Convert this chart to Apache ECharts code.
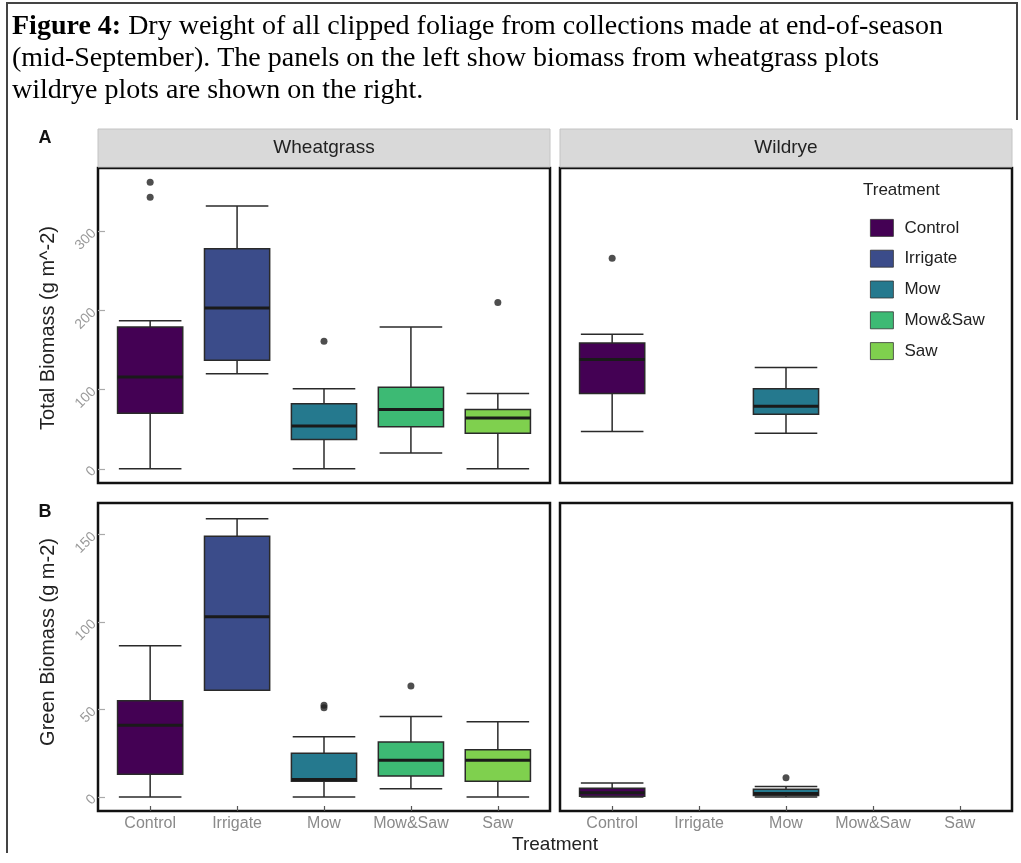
<!DOCTYPE html>
<html>
<head>
<meta charset="utf-8">
<script src="https://cdn.jsdelivr.net/npm/echarts@6/dist/echarts.min.js"></script>
<style>
html,body{margin:0;padding:0;background:#fff;}
#chart{width:1021px;height:863px;}
</style>
</head>
<body>
<div id="chart"></div>
<script>
// ---- data ----
const treatments = ['Control', 'Irrigate', 'Mow', 'Mow&Saw', 'Saw'];
// [lower whisker, Q1, median, Q3, upper whisker]
const totalWheatgrass = [
  [0, 70, 116, 179, 187],
  [120, 137, 203, 278, 332],
  [0, 37, 54, 82, 101],
  [20, 53, 75, 103, 179],
  [0, 45, 64, 75, 95]
];
const totalWheatgrassOutliers = [[0, 362], [0, 343], [2, 161], [4, 210]];
const totalWildrye = [
  [47, 95, 138, 159, 170],
  null,
  [45, 69, 79, 101, 128],
  null,
  null
];
const totalWildryeOutliers = [[0, 266]];
const greenWheatgrass = [
  [0, 13, 41, 55, 86.5],
  [61, 61, 103, 149, 159],
  [0, 9, 10, 25, 34.5],
  [4.7, 12, 21, 31.5, 46],
  [0, 9, 21, 27, 43]
];
const greenWheatgrassOutliers = [[2, 52.5], [2, 51], [3, 63.4]];
const greenWildrye = [
  [0, 0.5, 2.5, 5, 8],
  null,
  [0, 0.8, 2, 4.5, 6],
  null,
  null
];
const greenWildryeOutliers = [[2, 11]];
const totalTicks = [0, 100, 200, 300];
const greenTicks = [0, 50, 100, 150];

// ---- style ----
const colors = ['#440154', '#3B4C8A', '#25798E', '#3DBA74', '#7FD04E'];
const FONT = '"Liberation Sans", Arial, sans-serif';
const SERIF = '"Liberation Serif", "Times New Roman", serif';

const panels = [
  { stats: totalWheatgrass, out: totalWheatgrassOutliers },
  { stats: totalWildrye, out: totalWildryeOutliers },
  { stats: greenWheatgrass, out: greenWheatgrassOutliers },
  { stats: greenWildrye, out: greenWildryeOutliers }
];

const grids = [
  { left: 98, top: 168, width: 452, height: 315 },
  { left: 560, top: 168, width: 452, height: 315 },
  { left: 98, top: 503, width: 452, height: 308 },
  { left: 560, top: 503, width: 452, height: 308 }
].map(g => Object.assign(g, { show: true, borderColor: '#111', borderWidth: 2.5, backgroundColor: '#fff', containLabel: false }));

function renderBox(params, api) {
  const x = api.value(0);
  const lo = api.coord([x, api.value(1)]);
  const q1 = api.coord([x, api.value(2)]);
  const md = api.coord([x, api.value(3)]);
  const q3 = api.coord([x, api.value(4)]);
  const hi = api.coord([x, api.value(5)]);
  const w = api.size([0.75, 0])[0];
  const cw = api.size([0.72, 0])[0];
  const color = api.visual('color');
  const ln = { stroke: '#2a2a2a', lineWidth: 1.5 };
  const cx = lo[0];
  return {
    type: 'group',
    children: [
      { type: 'line', shape: { x1: cx, y1: lo[1], x2: cx, y2: hi[1] }, style: ln },
      { type: 'line', shape: { x1: cx - cw / 2, y1: lo[1], x2: cx + cw / 2, y2: lo[1] }, style: ln },
      { type: 'line', shape: { x1: cx - cw / 2, y1: hi[1], x2: cx + cw / 2, y2: hi[1] }, style: ln },
      { type: 'rect', shape: { x: cx - w / 2, y: q3[1], width: w, height: q1[1] - q3[1] },
        style: { fill: color, stroke: '#2a2a2a', lineWidth: 1.5 } },
      { type: 'line', shape: { x1: cx - w / 2, y1: md[1], x2: cx + w / 2, y2: md[1] },
        style: { stroke: '#1a1a1a', lineWidth: 3 } }
    ]
  };
}

const xAxes = [], yAxes = [], series = [];
panels.forEach((p, g) => {
  const bottom = g >= 2;
  const leftSide = g % 2 === 0;
  xAxes.push({
    gridIndex: g, type: 'value', min: -0.6, max: 4.6, position: 'bottom',
    splitLine: { show: false }, axisLine: { show: false, onZero: false },
    axisTick: { show: bottom, customValues: [0, 1, 2, 3, 4], inside: true, length: 5, lineStyle: { color: '#555', width: 1.2 } },
    axisLabel: { show: bottom, customValues: [0, 1, 2, 3, 4], formatter: v => treatments[Math.round(v)],
      color: '#8a8a8a', fontSize: 16, fontFamily: FONT, margin: 5 }
  });
  const ticks = g < 2 ? totalTicks : greenTicks;
  yAxes.push({
    gridIndex: g, type: 'value', position: 'left',
    min: g < 2 ? -18 : -8, max: g < 2 ? 380 : 168,
    splitLine: { show: false }, axisLine: { show: false, onZero: false },
    axisTick: { show: leftSide, customValues: ticks, inside: true, length: 7, lineStyle: { color: '#aaa', width: 1.2 } },
    axisLabel: { show: leftSide, customValues: ticks, rotate: 45, color: '#9a9a9a', fontSize: 14, fontFamily: FONT, margin: 4 }
  });
  p.stats.forEach((s, i) => {
    if (!s) return;
    series.push({
      type: 'custom', name: treatments[i], xAxisIndex: g, yAxisIndex: g,
      itemStyle: { color: colors[i] },
      renderItem: renderBox,
      encode: { x: 0, y: [1, 2, 3, 4, 5] },
      data: [[i].concat(s)],
      silent: true
    });
  });
  series.push({
    type: 'scatter', name: 'outliers', xAxisIndex: g, yAxisIndex: g,
    data: p.out, symbolSize: 7, itemStyle: { color: '#222' }, silent: true, z: 5
  });
});

const graphics = [
  // outer frame
  { type: 'polyline', shape: { points: [[7, 853], [7, 3], [1017, 3], [1017, 120]] }, style: { stroke: '#444', lineWidth: 2, fill: null } },
  // caption
  { type: 'text', left: 12, top: 13, style: { text: '{b|Figure 4:} Dry weight of all clipped foliage from collections made at end-of-season',
      rich: { b: { fontWeight: 'bold', fontFamily: SERIF, fontSize: 28, fill: '#000' } }, fontFamily: SERIF, fontSize: 28, fill: '#000' } },
  { type: 'text', left: 12, top: 45, style: { text: '(mid-September). The panels on the left show biomass from wheatgrass plots', fontFamily: SERIF, fontSize: 28, fill: '#000' } },
  { type: 'text', left: 12, top: 77, style: { text: 'wildrye plots are shown on the right.', fontFamily: SERIF, fontSize: 28, fill: '#000' } },
  // strips
  { type: 'rect', shape: { x: 98, y: 129, width: 452, height: 38 }, style: { fill: '#D9D9D9', stroke: '#c4c4c4', lineWidth: 1 } },
  { type: 'rect', shape: { x: 560, y: 129, width: 452, height: 38 }, style: { fill: '#D9D9D9', stroke: '#c4c4c4', lineWidth: 1 } },
  { type: 'text', x: 324, y: 148, style: { text: 'Wheatgrass', fontFamily: FONT, fontSize: 19, fill: '#222', align: 'center', verticalAlign: 'middle' } },
  { type: 'text', x: 786, y: 148, style: { text: 'Wildrye', fontFamily: FONT, fontSize: 19, fill: '#222', align: 'center', verticalAlign: 'middle' } },
  // panel tags
  { type: 'text', x: 45, y: 138, style: { text: 'A', fontFamily: FONT, fontSize: 18, fontWeight: 'bold', fill: '#111', align: 'center', verticalAlign: 'middle' } },
  { type: 'text', x: 45, y: 512, style: { text: 'B', fontFamily: FONT, fontSize: 18, fontWeight: 'bold', fill: '#111', align: 'center', verticalAlign: 'middle' } },
  // axis titles
  { type: 'text', x: 48, y: 328, rotation: Math.PI / 2, style: { text: 'Total Biomass (g m^-2)', fontFamily: FONT, fontSize: 20, fill: '#222', align: 'center', verticalAlign: 'middle' } },
  { type: 'text', x: 48, y: 642, rotation: Math.PI / 2, style: { text: 'Green Biomass (g m-2)', fontFamily: FONT, fontSize: 20, fill: '#222', align: 'center', verticalAlign: 'middle' } },
  { type: 'text', x: 555, y: 845, style: { text: 'Treatment', fontFamily: FONT, fontSize: 19, fill: '#222', align: 'center', verticalAlign: 'middle' } },
  // legend title
  { type: 'text', x: 863, y: 190, style: { text: 'Treatment', fontFamily: FONT, fontSize: 17, fill: '#222', align: 'left', verticalAlign: 'middle' } }
];

const chart = echarts.init(document.getElementById('chart'), null, { renderer: 'canvas' });
chart.setOption({
  animation: false,
  backgroundColor: '#fff',
  grid: grids,
  xAxis: xAxes,
  yAxis: yAxes,
  series: series,
  legend: {
    orient: 'vertical', left: 865, top: 214,
    data: treatments, icon: 'rect',
    itemWidth: 23, itemHeight: 17, itemGap: 13,
    itemStyle: { borderColor: '#333', borderWidth: 0.8 },
    textStyle: { fontSize: 17, color: '#222', fontFamily: FONT, padding: [0, 0, 0, 6] },
    selectedMode: false
  },
  graphic: graphics
});
</script>
</body>
</html>
